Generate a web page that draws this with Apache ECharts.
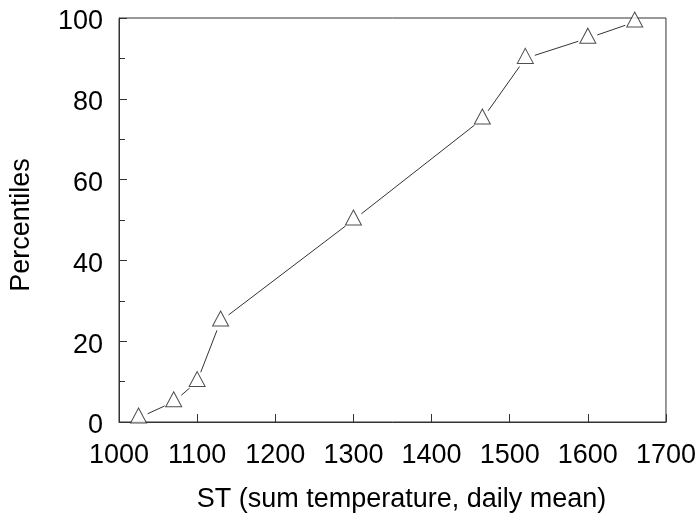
<!DOCTYPE html>
<html>
<head>
<meta charset="utf-8">
<script src="https://cdn.jsdelivr.net/npm/echarts@6/dist/echarts.min.js"></script>
<style>html,body{margin:0;padding:0;background:#fff;}#c{width:699px;height:518px;}</style>
</head>
<body>
<div id="c"></div>
<script>
// Data
const stValues = [1025, 1070, 1100, 1130, 1300, 1465, 1520, 1600, 1660];
const percentiles = [1, 5, 10, 25, 50, 75, 90, 95, 99];
const xTicks = [1000, 1100, 1200, 1300, 1400, 1500, 1600, 1700];
const yTicks = [0, 20, 40, 60, 80, 100];

const FONT = "'Liberation Sans', Arial, Helvetica, sans-serif";
const points = stValues.map((v, i) => [v, percentiles[i]]);
const segments = [];
for (let i = 0; i < points.length - 1; i++) {
  segments.push([points[i][0], points[i][1], points[i + 1][0], points[i + 1][1]]);
}
const GAP = 10;

const chart = echarts.init(document.getElementById('c'), null, {renderer: 'canvas'});
chart.setOption({
  animation: false,
  backgroundColor: '#fff',
  grid: {left: 117, top: 18, right: 32, bottom: 93, show: true, borderColor: '#333', borderWidth: 1, backgroundColor: 'transparent'},
  xAxis: {
    type: 'value', min: xTicks[0], max: xTicks[xTicks.length - 1], interval: 100,
    name: 'ST (sum temperature, daily mean)', nameLocation: 'middle', nameGap: 64,
    nameTextStyle: {fontFamily: FONT, fontSize: 27, color: '#000', padding: [0, 0, 0, 18]},
    axisLine: {show: true, lineStyle: {color: '#333', width: 1}},
    axisTick: {show: true, inside: true, length: 8, lineStyle: {color: '#333'}},
    axisLabel: {fontFamily: FONT, fontSize: 27, color: '#000', margin: 20, formatter: v => String(v)},
    splitLine: {show: false}
  },
  yAxis: {
    type: 'value', min: yTicks[0], max: yTicks[yTicks.length - 1], interval: 20,
    name: 'Percentiles', nameLocation: 'middle', nameGap: 84, nameRotate: 90,
    nameTextStyle: {fontFamily: FONT, fontSize: 27, color: '#000', padding: [0, 10, 0, 0]},
    axisLine: {show: true, lineStyle: {color: '#333', width: 1}},
    axisTick: {show: true, inside: true, length: 8, lineStyle: {color: '#333'}},
    minorTick: {show: true, splitNumber: 2, length: 6, lineStyle: {color: '#333'}},
    axisLabel: {
      margin: 16,
      formatter: v => '{a|' + v + '}',
      rich: {a: {fontFamily: FONT, fontSize: 27, color: '#000', padding: [8, 0, 0, 0]}}
    },
    splitLine: {show: false}
  },
  series: [
    {
      type: 'custom',
      data: segments,
      encode: {x: [0, 2], y: [1, 3]},
      silent: true,
      renderItem: function (params, api) {
        const p1 = api.coord([api.value(0), api.value(1)]);
        const p2 = api.coord([api.value(2), api.value(3)]);
        const dx = p2[0] - p1[0], dy = p2[1] - p1[1];
        const len = Math.sqrt(dx * dx + dy * dy);
        if (len <= 2 * GAP) return null;
        const ux = dx / len, uy = dy / len;
        return {
          type: 'line',
          shape: {x1: p1[0] + ux * GAP, y1: p1[1] + uy * GAP, x2: p2[0] - ux * GAP, y2: p2[1] - uy * GAP},
          style: {stroke: '#333', lineWidth: 1}
        };
      }
    },
    {
      type: 'scatter',
      data: points,
      clip: false,
      symbol: 'triangle',
      symbolSize: [16, 15],
      symbolOffset: [0, -2.5],
      itemStyle: {color: '#fff', borderColor: '#222', borderWidth: 1},
      z: 5
    }
  ]
});
</script>
</body>
</html>
